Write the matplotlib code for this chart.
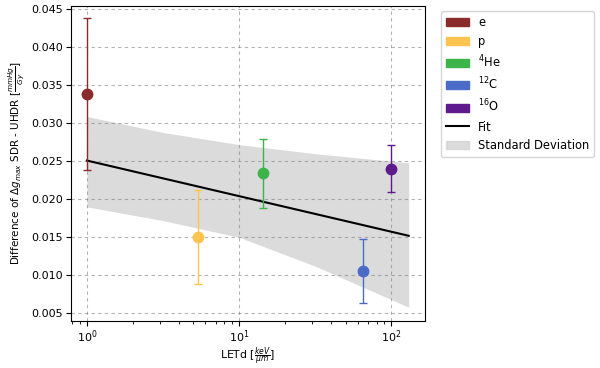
import matplotlib
matplotlib.use("Agg")
import matplotlib.pyplot as plt
from matplotlib.patches import Patch
from matplotlib.lines import Line2D

# data
particles = ["e", "p", "$^{4}$He", "$^{12}$C", "$^{16}$O"]
letd = [1.0, 5.4, 14.3, 65.0, 100.0]
delta_g = [0.0338, 0.0150, 0.0234, 0.0106, 0.0240]
delta_g_err = [0.0100, 0.0062, 0.0046, 0.0042, 0.0031]
colors = ["#8b2c2c", "#ffc44f", "#3cb44a", "#4a6cc8", "#5e1a8c"]

fit_x = [1.0, 130.0]
fit_y = [0.0251, 0.0152]

band_x = [1.0, 3.16, 10.0, 31.6, 130.0]
band_upper = [0.0309, 0.0288, 0.0272, 0.0260, 0.0248]
band_lower = [0.0190, 0.0172, 0.0150, 0.0112, 0.0058]

fig, ax = plt.subplots(figsize=(6, 3.68), dpi=100)
fig.subplots_adjust(left=0.118, right=0.708, top=0.985, bottom=0.128)

ax.fill_between(band_x, band_lower, band_upper, color="lightgray", alpha=0.8,
                linewidth=0, zorder=1)
ax.plot(fit_x, fit_y, color="black", linewidth=1.5, zorder=2)
for x, y, e, c in zip(letd, delta_g, delta_g_err, colors):
    ax.errorbar(x, y, yerr=e, fmt="o", color=c, markersize=7.5, capsize=3,
                elinewidth=1, zorder=3)

ax.set_xscale("log")
ax.set_ylim(0.004, 0.0455)
ax.set_xlabel(r"LETd [$\frac{keV}{\mu m}$]", fontsize=7.8, labelpad=0)
ax.set_ylabel(r"Difference of $\Delta g_{max}$ SDR - UHDR [$\frac{mmHg}{Gy}$]",
              fontsize=7.5, labelpad=3)
ax.tick_params(labelsize=8, pad=2)
ax.grid(True, linestyle=(0, (3, 3)), color="gray", alpha=0.6, linewidth=0.8)

handles = [Patch(color=c, label=l) for c, l in zip(colors, particles)]
handles.append(Line2D([0], [0], color="black", label="Fit"))
handles.append(Patch(color="lightgray", alpha=0.8, label="Standard Deviation"))
ax.legend(handles=handles, loc="upper left", bbox_to_anchor=(1.03, 1.0),
          fontsize=8.3)

plt.savefig("out.png", dpi=100)
plt.close()
